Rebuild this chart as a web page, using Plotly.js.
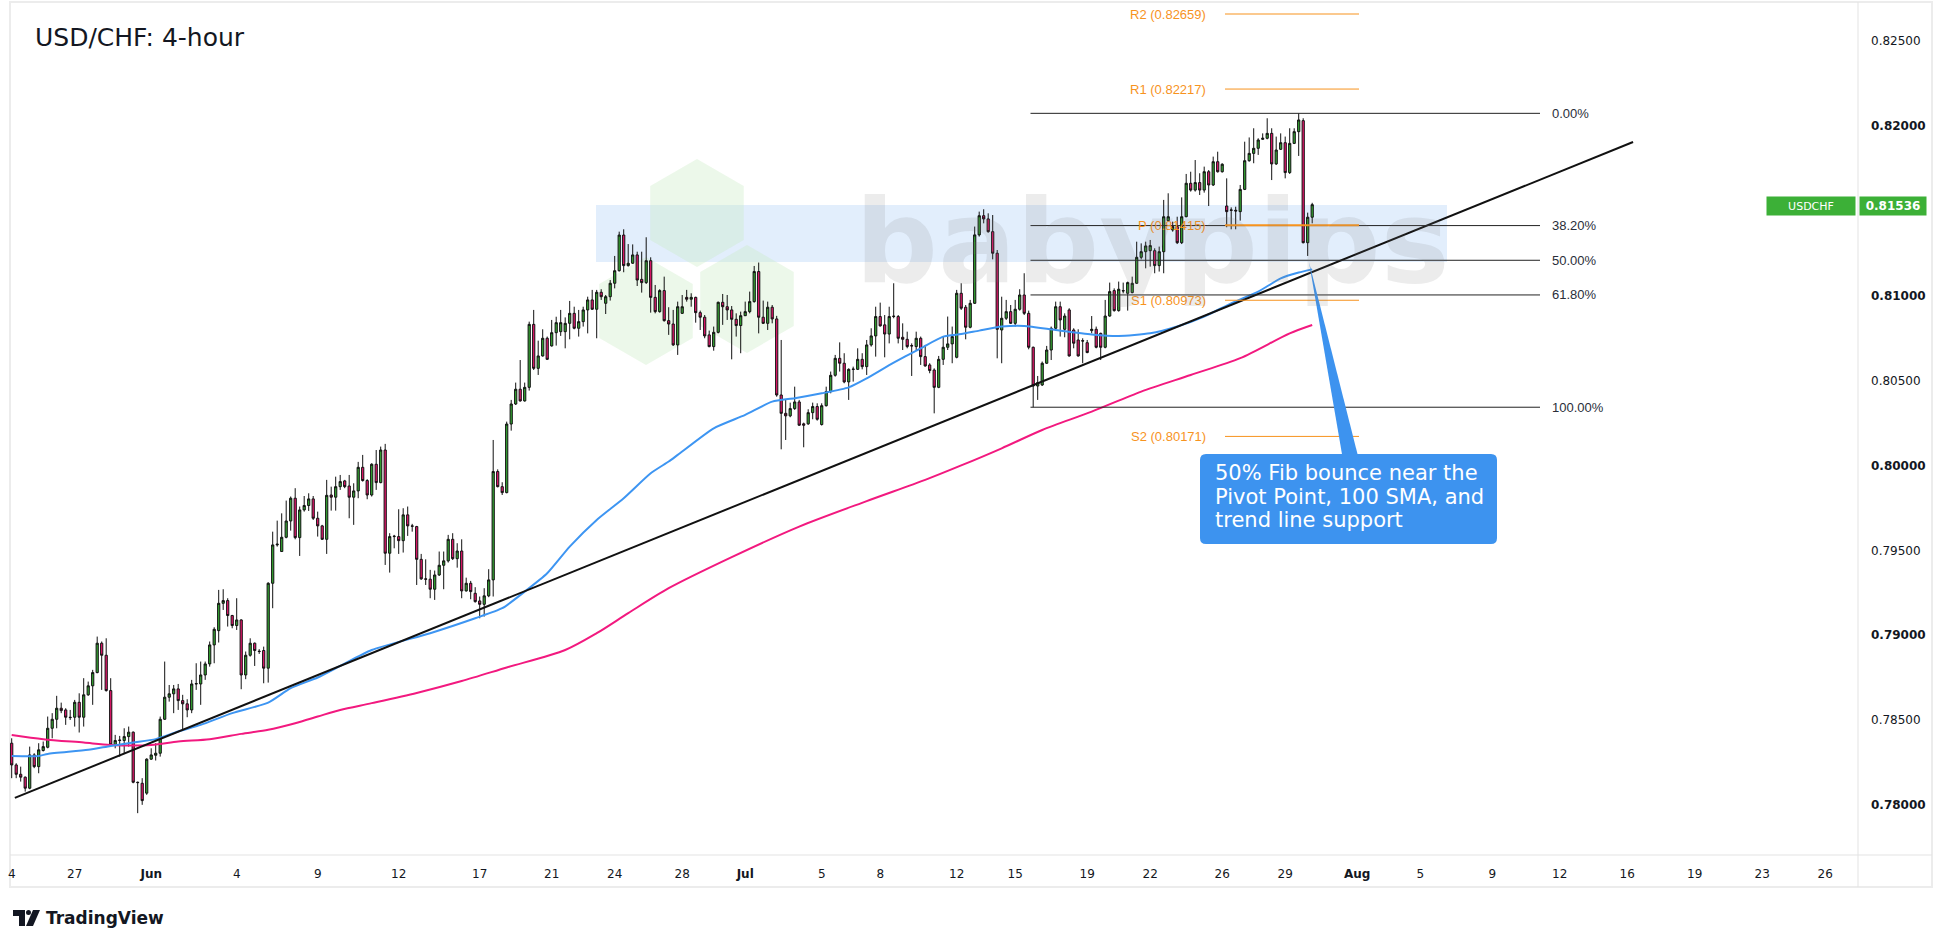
<!DOCTYPE html>
<html><head><meta charset="utf-8">
<script src="https://cdn.plot.ly/plotly-3.0.1.min.js"></script>
<style>html,body{margin:0;padding:0;background:#fff;overflow:hidden}#chart{width:1940px;height:948px}</style>
</head><body><div id="chart"></div>
<script>
// ---------- DATA ----------
const opens = [0.78364,0.78236,0.78181,0.78164,0.78099,0.78295,0.78226,0.78321,0.78340,0.78452,
0.78505,0.78570,0.78560,0.78517,0.78517,0.78605,0.78517,0.78649,0.78702,0.78780,
0.78953,0.78882,0.78674,0.78354,0.78380,0.78380,0.78403,0.78429,0.78134,0.78128,
0.78070,0.78270,0.78293,0.78305,0.78505,0.78635,0.78655,0.78684,0.78615,0.78596,
0.78560,0.78713,0.78713,0.78766,0.78831,0.78943,0.79027,0.79188,0.79204,0.79116,
0.79057,0.79090,0.78766,0.78882,0.78953,0.78906,0.78910,0.78806,0.79306,0.79532,
0.79493,0.79577,0.79673,0.79807,0.79575,0.79738,0.79764,0.79803,0.79689,0.79644,
0.79565,0.79826,0.79813,0.79875,0.79909,0.79879,0.79813,0.79850,0.79989,0.79911,
0.79826,0.80007,0.79899,0.80091,0.79483,0.79581,0.79581,0.79557,0.79709,0.79644,
0.79640,0.79447,0.79332,0.79330,0.79271,0.79355,0.79412,0.79438,0.79565,0.79451,
0.79496,0.79261,0.79306,0.79247,0.79202,0.79182,0.79232,0.79326,0.79964,0.79875,
0.79840,0.80244,0.80362,0.80449,0.80380,0.80460,0.80831,0.80572,0.80645,0.80749,
0.80704,0.80782,0.80788,0.80788,0.80837,0.80896,0.80808,0.80847,0.80916,0.80975,
0.80920,0.81020,0.80955,0.80994,0.81073,0.81147,0.81357,0.81177,0.81191,0.81240,
0.81096,0.81077,0.81206,0.80990,0.80906,0.81030,0.80853,0.80833,0.80710,0.80896,
0.80990,0.80979,0.80990,0.80900,0.80873,0.80769,0.80700,0.80784,0.80961,0.80935,
0.80916,0.80861,0.80824,0.80882,0.80906,0.80965,0.81142,0.80873,0.80837,0.80932,
0.80863,0.80415,0.80307,0.80292,0.80335,0.80374,0.80245,0.80245,0.80311,0.80347,
0.80241,0.80352,0.80435,0.80531,0.80631,0.80602,0.80492,0.80568,0.80566,0.80625,
0.80582,0.80710,0.80763,0.80877,0.80828,0.80774,0.80877,0.80877,0.80755,0.80743,
0.80706,0.80700,0.80749,0.80641,0.80592,0.80562,0.80460,0.80625,0.80696,0.80716,
0.80637,0.81014,0.80932,0.80814,0.80955,0.81358,0.81471,0.81452,0.81377,0.81250,
0.80798,0.80867,0.80906,0.80837,0.80920,0.81004,0.80896,0.80696,0.80468,0.80474,
0.80602,0.80680,0.80808,0.80935,0.80802,0.80916,0.80798,0.80739,0.80735,0.80723,
0.80794,0.80802,0.80778,0.80696,0.80880,0.81030,0.80912,0.81030,0.81014,0.81018,
0.81073,0.81226,0.81259,0.81265,0.81265,0.81177,0.81259,0.81442,0.81387,0.81407,
0.81312,0.81465,0.81662,0.81622,0.81666,0.81622,0.81730,0.81652,0.81789,0.81730,
0.81528,0.81505,0.81503,0.81495,0.81626,0.81795,0.81838,0.81868,0.81921,0.81927,
0.81956,0.81776,0.81862,0.81901,0.81725,0.81897,0.81966,0.82031,0.81312,0.81462];
const highs = [0.78393,0.78246,0.78226,0.78168,0.78344,0.78305,0.78364,0.78374,0.78521,0.78541,
0.78643,0.78603,0.78570,0.78560,0.78619,0.78658,0.78747,0.78727,0.78796,0.78992,
0.78963,0.78982,0.78747,0.78413,0.78407,0.78452,0.78462,0.78433,0.78138,0.78158,
0.78275,0.78334,0.78364,0.78521,0.78845,0.78707,0.78707,0.78713,0.78649,0.78623,
0.78737,0.78835,0.78845,0.78845,0.78963,0.79047,0.79267,0.79271,0.79218,0.79120,
0.79218,0.79094,0.78904,0.78982,0.78957,0.78918,0.78933,0.79312,0.79610,0.79675,
0.79718,0.79793,0.79817,0.79866,0.79758,0.79820,0.79836,0.79820,0.79728,0.79650,
0.79915,0.79875,0.79934,0.79944,0.79915,0.79944,0.79895,0.80021,0.80062,0.79919,
0.80013,0.80091,0.80111,0.80127,0.79601,0.79591,0.79742,0.79748,0.79758,0.79656,
0.79644,0.79479,0.79447,0.79385,0.79381,0.79493,0.79493,0.79591,0.79601,0.79542,
0.79565,0.79339,0.79320,0.79283,0.79228,0.79277,0.79389,0.80150,0.79977,0.79901,
0.80258,0.80386,0.80488,0.80621,0.80488,0.80847,0.80916,0.80735,0.80802,0.80759,
0.80857,0.80876,0.80916,0.80872,0.80969,0.80935,0.80916,0.80935,0.80994,0.81034,
0.81034,0.81038,0.81004,0.81092,0.81234,0.81377,0.81391,0.81304,0.81302,0.81259,
0.81259,0.81344,0.81226,0.81063,0.81038,0.81112,0.80932,0.80916,0.80965,0.81004,
0.81034,0.81014,0.80994,0.80912,0.80886,0.80794,0.80818,0.80965,0.81010,0.81004,
0.80939,0.80896,0.80906,0.80965,0.81024,0.81175,0.81195,0.80971,0.80965,0.80945,
0.80881,0.80739,0.80386,0.80370,0.80464,0.80386,0.80252,0.80331,0.80370,0.80366,
0.80366,0.80464,0.80553,0.80651,0.80725,0.80661,0.80572,0.80582,0.80690,0.80661,
0.80739,0.80808,0.80935,0.80959,0.80886,0.80935,0.81073,0.80886,0.80837,0.80788,
0.80719,0.80788,0.80759,0.80710,0.80602,0.80572,0.80645,0.80759,0.80877,0.80818,
0.81034,0.81073,0.80945,0.80975,0.81407,0.81495,0.81509,0.81485,0.81475,0.81269,
0.80994,0.80975,0.80945,0.80975,0.81038,0.81132,0.80912,0.80700,0.80527,0.80612,
0.80704,0.80818,0.80965,0.80965,0.80896,0.80926,0.80808,0.80802,0.80749,0.80739,
0.80880,0.80818,0.80782,0.80975,0.81077,0.81043,0.81083,0.81077,0.81083,0.81112,
0.81318,0.81308,0.81318,0.81328,0.81279,0.81289,0.81564,0.81603,0.81436,0.81465,
0.81579,0.81717,0.81730,0.81799,0.81721,0.81760,0.81740,0.81819,0.81848,0.81780,
0.81691,0.81520,0.81524,0.81652,0.81907,0.81932,0.81986,0.81927,0.81956,0.82045,
0.81986,0.81937,0.81956,0.81937,0.81986,0.81986,0.82074,0.82045,0.81489,0.81547];
const lows = [0.78158,0.78158,0.78138,0.78079,0.78093,0.78217,0.78187,0.78315,0.78334,0.78393,
0.78452,0.78541,0.78472,0.78501,0.78462,0.78427,0.78462,0.78643,0.78590,0.78776,
0.78678,0.78668,0.78348,0.78334,0.78285,0.78305,0.78344,0.78128,0.77952,0.78001,
0.78060,0.78266,0.78262,0.78285,0.78501,0.78609,0.78541,0.78560,0.78446,0.78517,
0.78541,0.78678,0.78590,0.78737,0.78815,0.78835,0.78957,0.79149,0.79051,0.79041,
0.79031,0.78682,0.78741,0.78874,0.78819,0.78890,0.78717,0.78721,0.79159,0.79522,
0.79493,0.79571,0.79616,0.79565,0.79467,0.79728,0.79732,0.79679,0.79581,0.79561,
0.79479,0.79734,0.79734,0.79856,0.79866,0.79689,0.79650,0.79807,0.79905,0.79801,
0.79817,0.79856,0.79895,0.79414,0.79369,0.79512,0.79479,0.79487,0.79585,0.79610,
0.79296,0.79326,0.79296,0.79218,0.79208,0.79349,0.79271,0.79428,0.79443,0.79398,
0.79218,0.79257,0.79212,0.79192,0.79100,0.79110,0.79224,0.79228,0.79871,0.79826,
0.79836,0.80205,0.80356,0.80376,0.80376,0.80441,0.80562,0.80533,0.80641,0.80621,
0.80700,0.80706,0.80763,0.80690,0.80743,0.80802,0.80759,0.80818,0.80778,0.80916,
0.80749,0.80975,0.80892,0.80971,0.81043,0.81142,0.81138,0.81171,0.81187,0.81057,
0.81018,0.81069,0.80900,0.80896,0.80900,0.80847,0.80769,0.80704,0.80651,0.80892,
0.80965,0.80935,0.80841,0.80798,0.80749,0.80696,0.80676,0.80778,0.80828,0.80857,
0.80625,0.80759,0.80661,0.80880,0.80896,0.80959,0.80778,0.80833,0.80798,0.80837,
0.80405,0.80095,0.80150,0.80284,0.80327,0.80233,0.80107,0.80239,0.80272,0.80264,
0.80235,0.80347,0.80425,0.80523,0.80553,0.80484,0.80386,0.80494,0.80562,0.80566,
0.80533,0.80700,0.80641,0.80818,0.80637,0.80719,0.80867,0.80719,0.80680,0.80690,
0.80527,0.80680,0.80592,0.80582,0.80543,0.80307,0.80455,0.80592,0.80680,0.80602,
0.80631,0.80916,0.80743,0.80808,0.80951,0.81348,0.81426,0.81371,0.81214,0.80631,
0.80602,0.80857,0.80833,0.80818,0.80912,0.80886,0.80684,0.80343,0.80386,0.80468,
0.80598,0.80621,0.80802,0.80759,0.80755,0.80641,0.80690,0.80641,0.80602,0.80661,
0.80778,0.80690,0.80621,0.80690,0.80876,0.80906,0.80906,0.81014,0.80912,0.81014,
0.81069,0.81214,0.81161,0.81171,0.81132,0.81142,0.81132,0.81436,0.81377,0.81304,
0.81304,0.81462,0.81613,0.81613,0.81593,0.81607,0.81528,0.81646,0.81725,0.81725,
0.81403,0.81391,0.81391,0.81442,0.81622,0.81789,0.81780,0.81829,0.81917,0.81921,
0.81681,0.81770,0.81858,0.81691,0.81717,0.81893,0.81823,0.81308,0.81234,0.81426];
const closes = [0.78236,0.78181,0.78164,0.78099,0.78295,0.78226,0.78325,0.78344,0.78452,0.78505,
0.78570,0.78556,0.78517,0.78515,0.78605,0.78517,0.78649,0.78702,0.78780,0.78953,
0.78882,0.78674,0.78354,0.78380,0.78382,0.78403,0.78429,0.78134,0.78132,0.78026,
0.78270,0.78295,0.78305,0.78505,0.78635,0.78655,0.78684,0.78615,0.78596,0.78560,
0.78713,0.78715,0.78766,0.78831,0.78943,0.79035,0.79188,0.79204,0.79116,0.79057,
0.79090,0.78766,0.78882,0.78953,0.78910,0.78904,0.78806,0.79306,0.79532,0.79536,
0.79577,0.79673,0.79807,0.79575,0.79738,0.79764,0.79803,0.79689,0.79644,0.79565,
0.79824,0.79813,0.79875,0.79905,0.79875,0.79813,0.79850,0.79989,0.79911,0.79826,
0.80007,0.79899,0.80091,0.79483,0.79581,0.79583,0.79557,0.79709,0.79644,0.79642,
0.79447,0.79332,0.79330,0.79271,0.79355,0.79412,0.79438,0.79565,0.79451,0.79496,
0.79261,0.79306,0.79257,0.79198,0.79182,0.79232,0.79326,0.79964,0.79875,0.79840,
0.80244,0.80362,0.80449,0.80380,0.80460,0.80831,0.80572,0.80645,0.80749,0.80625,
0.80782,0.80841,0.80841,0.80837,0.80896,0.80808,0.80847,0.80916,0.80975,0.80920,
0.81020,0.80994,0.80994,0.81073,0.81147,0.81357,0.81177,0.81191,0.81240,0.81092,
0.81077,0.81206,0.80990,0.80906,0.81030,0.80853,0.80833,0.80710,0.80935,0.80935,
0.80979,0.80990,0.80900,0.80873,0.80763,0.80700,0.80784,0.80961,0.80935,0.80916,
0.80861,0.80824,0.80882,0.80906,0.80965,0.81142,0.80873,0.80837,0.80932,0.80863,
0.80415,0.80307,0.80292,0.80335,0.80374,0.80237,0.80237,0.80311,0.80347,0.80272,
0.80352,0.80435,0.80531,0.80631,0.80602,0.80492,0.80566,0.80566,0.80625,0.80582,
0.80710,0.80763,0.80877,0.80822,0.80774,0.80877,0.80879,0.80749,0.80743,0.80700,
0.80704,0.80749,0.80641,0.80586,0.80559,0.80460,0.80625,0.80696,0.80716,0.80759,
0.81014,0.80926,0.80814,0.80955,0.81358,0.81471,0.81452,0.81377,0.81250,0.80802,
0.80867,0.80906,0.80837,0.80920,0.81004,0.80896,0.80696,0.80468,0.80488,0.80602,
0.80680,0.80808,0.80935,0.80857,0.80880,0.80645,0.80720,0.80645,0.80733,0.80665,
0.80802,0.80696,0.80696,0.80880,0.81024,0.80912,0.81038,0.81028,0.81077,0.81073,
0.81226,0.81259,0.81293,0.81295,0.81177,0.81259,0.81465,0.81465,0.81407,0.81312,
0.81465,0.81662,0.81622,0.81666,0.81622,0.81730,0.81652,0.81789,0.81730,0.81774,
0.81495,0.81503,0.81499,0.81626,0.81795,0.81838,0.81868,0.81917,0.81927,0.81956,
0.81776,0.81858,0.81901,0.81725,0.81897,0.81966,0.82035,0.81312,0.81462,0.81536];

// 100 SMA (blue) and 200 SMA (magenta), read at bar positions
const sma100Bars = [0,6,8,17,22,27,32,37,42,49,57,62,68,73,80,93,103,109,114,119,124,130,136,142,146,148,156,163,169,174,180,186,190,196,202,207,211,215,220,225,232,240,246,253,259,265,271,277,282,286,289];
const sma100Vals = [0.78289,0.78289,0.78301,0.78325,0.78348,0.78368,0.78388,0.78433,0.78472,0.78541,0.78603,0.78688,0.78751,0.78819,0.78913,0.79012,0.79100,0.79159,0.79257,0.79365,0.79522,0.79679,0.79807,0.79954,0.80023,0.80062,0.80219,0.80298,0.80376,0.80396,0.80425,0.80460,0.80513,0.80606,0.80690,0.80759,0.80774,0.80794,0.80818,0.80822,0.80798,0.80772,0.80763,0.80778,0.80818,0.80877,0.80955,0.81024,0.81102,0.81136,0.81155];
const sma200Bars = [0,7,16,22,31,37,44,51,57,63,68,73,80,90,100,110,123,130,137,146,160,175,190,203,211,220,229,240,251,262,273,284,289];
const sma200Vals = [0.78413,0.78388,0.78368,0.78354,0.78354,0.78374,0.78388,0.78419,0.78443,0.78482,0.78521,0.78560,0.78600,0.78660,0.78730,0.78810,0.78913,0.79012,0.79130,0.79277,0.79460,0.79640,0.79790,0.79915,0.80000,0.80101,0.80209,0.80317,0.80435,0.80533,0.80632,0.80778,0.80827];

// axis ticks
const xTickBars = [0,14,31,50,68,86,104,120,134,149,163,180,193,210,223,239,253,269,283,299,313,329,344,359,374,389,403];
const xTickText = ['4','27','<b>Jun</b>','4','9','12','17','21','24','28','<b>Jul</b>','5','8','12','15','19','22','26','29','<b>Aug</b>','5','9','12','16','19','23','26'];
const yTickVals = [0.780,0.785,0.790,0.795,0.800,0.805,0.810,0.820,0.825];
const yTickText = ['<b>0.78000</b>','0.78500','<b>0.79000</b>','0.79500','<b>0.80000</b>','0.80500','<b>0.81000</b>','<b>0.82000</b>','0.82500'];

// drawings
const trendStart = [0.7, 0.78042], trendEnd = [360.3, 0.81905];
const fibHigh = 0.82074, fibLow = 0.80343;
const fibRatios = [0, 0.382, 0.5, 0.618, 1];
const fibText = ['0.00%','38.20%','50.00%','61.80%','100.00%'];
const pivotNames = ['R2','R1','P','S1','S2'];
const pivotVals = [0.82659,0.82217,0.81415,0.80973,0.80171];
const lastPrice = 0.81536;
const calloutLines = ['50% Fib bounce near the','Pivot Point, 100 SMA, and','trend line support'];

// ---------- GEOMETRY ----------
const PL=10, PR=1858, PT=4, PB=855;
const X0=11.7, BAR=4.5;
const P0=0.825, Y0=41, PPX=0.005/84.89;
const bx = px => (px - X0)/BAR;
const pyv = p => P0 - (p - Y0)*PPX;
const paperX = px => (px-PL)/(PR-PL);
const paperY = p => (PB-p)/(PB-PT);

const idx = closes.map((_,i)=>i);

const traces = [
 {type:'scatter',mode:'lines',x:sma200Bars,y:sma200Vals,line:{color:'#f2197f',width:2,shape:'spline',smoothing:0.8},hoverinfo:'skip'},
 {type:'scatter',mode:'lines',x:sma100Bars,y:sma100Vals,line:{color:'#3d95f2',width:2,shape:'spline',smoothing:0.6},hoverinfo:'skip'},
 {type:'candlestick',x:idx,open:opens,high:highs,low:lows,close:closes,
  increasing:{line:{color:'#111',width:1},fillcolor:'#35a632'},
  decreasing:{line:{color:'#111',width:1},fillcolor:'#e8176d'},
  whiskerwidth:0,hoverinfo:'skip'}
];

const shapes = [];
const ann = [];
// frame
shapes.push({type:'rect',xref:'paper',yref:'paper',x0:paperX(10),x1:paperX(1932),y0:paperY(887),y1:paperY(2),line:{color:'#ececec',width:2},layer:'below'});
shapes.push({type:'line',xref:'paper',yref:'paper',x0:paperX(1858),x1:paperX(1858),y0:paperY(887),y1:paperY(2),line:{color:'#e3e3e3',width:1}});
shapes.push({type:'line',xref:'paper',yref:'paper',x0:paperX(10),x1:paperX(1932),y0:paperY(855),y1:paperY(855),line:{color:'#e3e3e3',width:1}});
// watermark band
shapes.push({type:'rect',xref:'paper',yref:'paper',x0:paperX(596),x1:paperX(1447),y0:paperY(262),y1:paperY(205),fillcolor:'rgba(190,218,248,0.45)',line:{width:0},layer:'below'});
// hexagons
function hex(cx,cy,r){let s='';for(let k=0;k<6;k++){const a=Math.PI/180*(60*k-90);s+=(k?'L':'M')+paperX(cx+r*Math.cos(a))+','+paperY(cy+r*Math.sin(a));}return s+'Z';}
[[697,213],[646,311],[747,299]].forEach(c=>shapes.push({type:'path',xref:'paper',yref:'paper',path:hex(c[0],c[1],54),fillcolor:'rgba(200,235,195,0.35)',line:{width:0},layer:'below'}));
// trend line
shapes.push({type:'line',xref:'x',yref:'y',x0:trendStart[0],y0:trendStart[1],x1:trendEnd[0],y1:trendEnd[1],line:{color:'#111',width:2}});
// fib
fibRatios.forEach((r,k)=>{
 const p = fibHigh - r*(fibHigh-fibLow);
 shapes.push({type:'line',xref:'x',yref:'y',x0:bx(1030.5),x1:bx(1540),y0:p,y1:p,line:{color:'#222',width:1}});
 ann.push({xref:'x',yref:'y',x:bx(1550),y:p,text:fibText[k],showarrow:false,xanchor:'left',yanchor:'middle',font:{family:'Liberation Sans Narrow, Liberation Sans, sans-serif',size:13,color:'#2a2e39'}});
});
// pivots
pivotVals.forEach((p,k)=>{
 shapes.push({type:'line',xref:'x',yref:'y',x0:bx(1225),x1:bx(1359),y0:p,y1:p,line:{color:'#f7931e',width:pivotNames[k]==='P'?2:1}});
 ann.push({xref:'x',yref:'y',x:bx(1208),y:p,text:pivotNames[k]+' ('+p.toFixed(5)+')',showarrow:false,xanchor:'right',yanchor:'middle',font:{family:'Liberation Sans Narrow, Liberation Sans, sans-serif',size:13,color:'#f7931e'}});
});
// callout box
(function(){
 const x0=bx(1200),x1=bx(1497),yT=pyv(454),yB=pyv(544),dx=6/BAR,dy=6*PPX;
 const path=`M${x0+dx},${yT} L${x1-dx},${yT} Q${x1},${yT} ${x1},${yT-dy} L${x1},${yB+dy} Q${x1},${yB} ${x1-dx},${yB} L${x0+dx},${yB} Q${x0},${yB} ${x0},${yB+dy} L${x0},${yT-dy} Q${x0},${yT} ${x0+dx},${yT} Z`;
 shapes.push({type:'path',xref:'x',yref:'y',path:path,fillcolor:'#3d93ef',line:{width:0}});
 shapes.push({type:'path',xref:'x',yref:'y',path:`M${bx(1309)},${pyv(262)} L${bx(1343)},${pyv(460)} L${bx(1359)},${pyv(460)} Z`,fillcolor:'#3d93ef',line:{width:0}});
 calloutLines.forEach((t,k)=>ann.push({xref:'x',yref:'y',x:bx(1213),y:pyv(473+23.5*k),text:t,showarrow:false,xanchor:'left',yanchor:'middle',font:{family:'DejaVu Sans, sans-serif',size:21,color:'#ffffff'}}));
})();
// babypips watermark text
ann.push({xref:'paper',yref:'paper',x:paperX(853),y:paperY(242),text:'<b>babypips</b>',showarrow:false,xanchor:'left',yanchor:'middle',font:{family:'DejaVu Sans, sans-serif',size:116,color:'rgba(120,120,120,0.14)'}});
// price labels
ann.push({xref:'paper',yref:'paper',x:paperX(1811),y:paperY(206),text:'USDCHF',showarrow:false,bgcolor:'#3cb037',width:86,height:16,font:{family:'DejaVu Sans, sans-serif',size:11,color:'#fff'},xanchor:'center',yanchor:'middle',borderpad:1});
ann.push({xref:'paper',yref:'paper',x:paperX(1893),y:paperY(206),text:'<b>'+lastPrice.toFixed(5)+'</b>',showarrow:false,bgcolor:'#3cb037',width:64,height:16,font:{family:'DejaVu Sans, sans-serif',size:12,color:'#fff'},xanchor:'center',yanchor:'middle',borderpad:1});
// TradingView logo
shapes.push({type:'path',xref:'paper',yref:'paper',path:`M${paperX(13)},${paperY(910)} L${paperX(25)},${paperY(910)} L${paperX(25)},${paperY(926)} L${paperX(19)},${paperY(926)} L${paperX(19)},${paperY(916)} L${paperX(13)},${paperY(916)} Z`,fillcolor:'#131722',line:{width:0}});
shapes.push({type:'circle',xref:'paper',yref:'paper',x0:paperX(26),x1:paperX(31),y0:paperY(915),y1:paperY(910),fillcolor:'#131722',line:{width:0}});
shapes.push({type:'path',xref:'paper',yref:'paper',path:`M${paperX(33)},${paperY(910)} L${paperX(40)},${paperY(910)} L${paperX(33)},${paperY(926)} L${paperX(26)},${paperY(926)} Z`,fillcolor:'#131722',line:{width:0}});
ann.push({xref:'paper',yref:'paper',x:paperX(44),y:paperY(918),text:'<b>TradingView</b>',showarrow:false,xanchor:'left',yanchor:'middle',font:{family:'DejaVu Sans, sans-serif',size:17,color:'#131722'}});

const layout = {
 width:1940,height:948,
 margin:{l:PL,r:1940-PR,t:PT,b:948-PB},
 paper_bgcolor:'#ffffff',plot_bgcolor:'#ffffff',showlegend:false,dragmode:false,
 title:{text:'USD/CHF: 4-hour',x:35/1940,xanchor:'left',xref:'container',y:1-37/948,yanchor:'middle',yref:'container',font:{family:'DejaVu Sans, sans-serif',size:25,color:'#131722'}},
 xaxis:{range:[bx(PL),bx(PR)],tickmode:'array',tickvals:xTickBars,ticktext:xTickText,showgrid:false,zeroline:false,showline:false,ticks:'',ticklabelstandoff:10,rangeslider:{visible:false},tickfont:{family:'DejaVu Sans, sans-serif',size:12,color:'#131722'},fixedrange:true},
 yaxis:{range:[pyv(PB),pyv(PT)],side:'right',tickmode:'array',tickvals:yTickVals,ticktext:yTickText,showgrid:false,zeroline:false,showline:false,ticks:'',ticklabelstandoff:12,tickfont:{family:'DejaVu Sans, sans-serif',size:12,color:'#131722'},fixedrange:true},
 shapes:shapes,annotations:ann
};
Plotly.newPlot('chart',traces,layout,{staticPlot:true,displayModeBar:false});
</script></body></html>
